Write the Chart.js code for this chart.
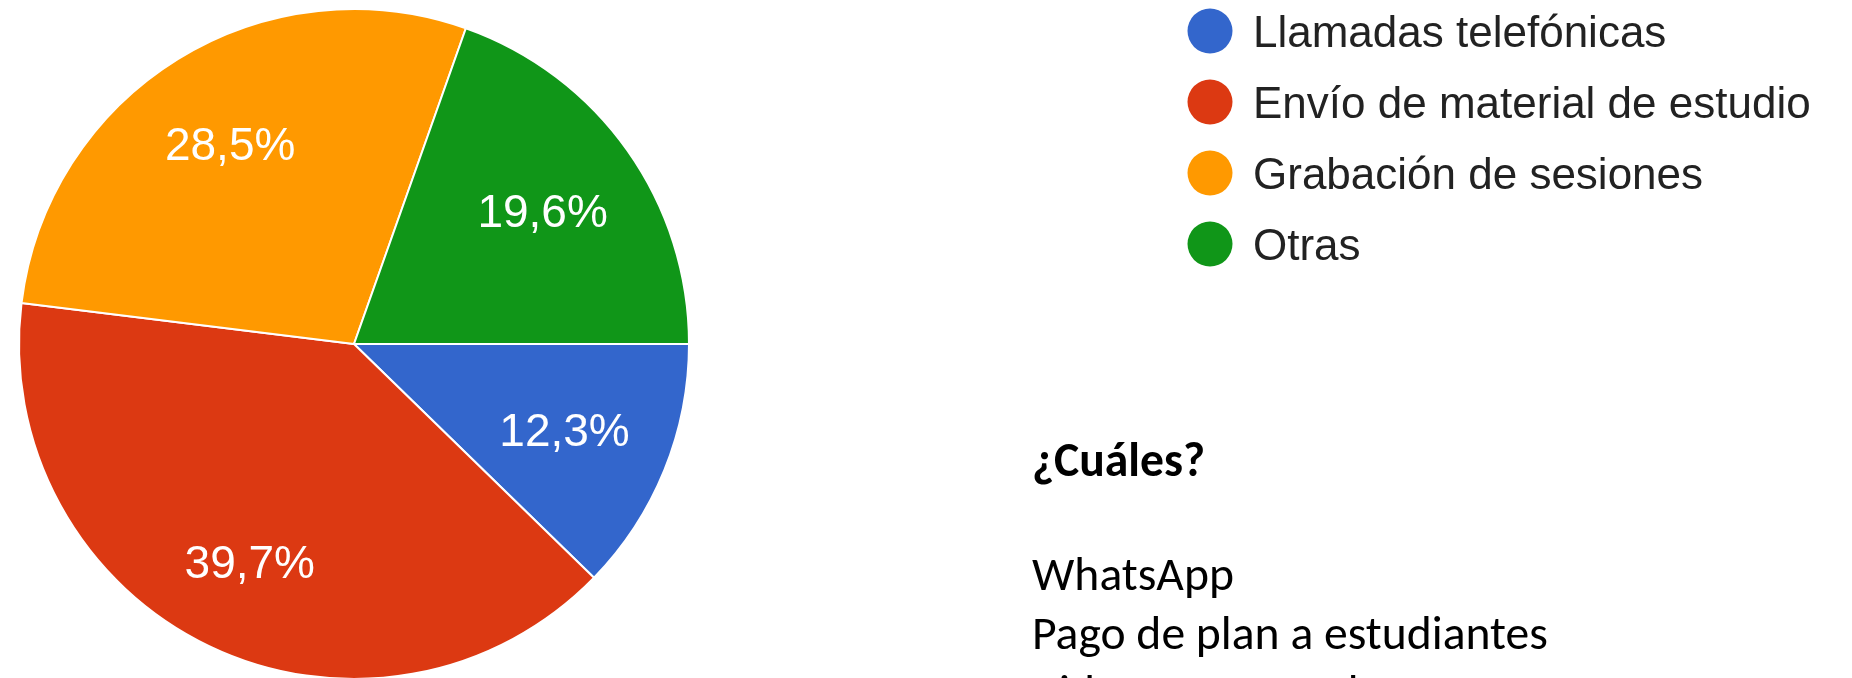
<!DOCTYPE html>
<html>
<head>
<meta charset="utf-8">
<script src="https://cdn.jsdelivr.net/npm/chart.js@4.4.1/dist/chart.umd.min.js"></script>
<style>
html, body { margin: 0; padding: 0; overflow: hidden; background: #ffffff; width: 1852px; height: 678px; }
canvas { display: block; }
</style>
</head>
<body>
<canvas id="c" width="1852" height="700"></canvas>
<script>
// ---- data ----
const categories = ['Llamadas telefónicas', 'Envío de material de estudio', 'Grabación de sesiones', 'Otras'];
const percentages = [12.3, 39.7, 28.5, 19.6];
const sliceColors = ['#3366CC', '#DC3912', '#FF9900', '#109618'];
const noteTitle = '¿Cuáles?';
const noteLines = ['WhatsApp', 'Pago de plan a estudiantes', 'Videos en YouTube'];

// ---- slice percentage labels ----
const sliceLabels = {
  id: 'sliceLabels',
  afterDatasetsDraw(chart) {
    const ctx = chart.ctx;
    const meta = chart.getDatasetMeta(0);
    const total = percentages.reduce((a, b) => a + b, 0);
    const fs = 46;
    ctx.save();
    ctx.fillStyle = '#ffffff';
    ctx.font = fs + 'px "Liberation Sans", Arial, sans-serif';
    ctx.textAlign = 'center';
    ctx.textBaseline = 'alphabetic';
    meta.data.forEach((arc, i) => {
      const p = arc.getProps(['x', 'y', 'startAngle', 'endAngle', 'outerRadius'], true);
      const mid = (p.startAngle + p.endAngle) / 2;
      const r = p.outerRadius * (0.66 + 0.15 * percentages[i] / total);
      const x = p.x + Math.cos(mid) * r;
      const y = p.y + Math.sin(mid) * r;
      ctx.fillText(percentages[i].toFixed(1).replace('.', ',') + '%', x, y + fs * 0.358);
    });
    ctx.restore();
  }
};

// ---- legend and side note drawn on the same canvas ----
const sidePanel = {
  id: 'sidePanel',
  afterDraw(chart) {
    const ctx = chart.ctx;
    ctx.save();
    // legend
    const lfs = 44;
    ctx.font = lfs + 'px "Liberation Sans", Arial, sans-serif';
    ctx.textAlign = 'left';
    ctx.textBaseline = 'alphabetic';
    categories.forEach((label, i) => {
      const cy = 31 + i * 71;
      ctx.beginPath();
      ctx.fillStyle = sliceColors[i];
      ctx.arc(1210, cy, 22.5, 0, Math.PI * 2);
      ctx.fill();
      ctx.fillStyle = '#222222';
      ctx.fillText(label, 1253, cy + lfs * 0.716 / 2);
    });
    // note text (Calibri-like), size fitted to the reference width
    const fam = 'Carlito, Lato, "Open Sans", sans-serif';
    ctx.font = '100px ' + fam;
    const w = ctx.measureText(noteLines[1]).width;
    const nfs = 100 * 516 / w;
    ctx.fillStyle = '#000000';
    ctx.font = 'bold ' + nfs.toFixed(2) + 'px ' + fam;
    ctx.fillText(noteTitle, 1032, 476);
    ctx.font = nfs.toFixed(2) + 'px ' + fam;
    noteLines.forEach((t, i) => ctx.fillText(t, 1032, 590 + i * 59));
    ctx.restore();
  }
};

new Chart(document.getElementById('c'), {
  type: 'pie',
  data: {
    labels: categories,
    datasets: [{
      data: percentages,
      backgroundColor: sliceColors,
      borderColor: '#ffffff',
      borderWidth: 2
    }]
  },
  options: {
    responsive: false,
    animation: false,
    rotation: 90,
    layout: { padding: { left: 18, top: 8, right: 1162, bottom: 20 } },
    plugins: {
      legend: { display: false },
      tooltip: { enabled: false }
    }
  },
  plugins: [sliceLabels, sidePanel]
});
</script>
</body>
</html>
